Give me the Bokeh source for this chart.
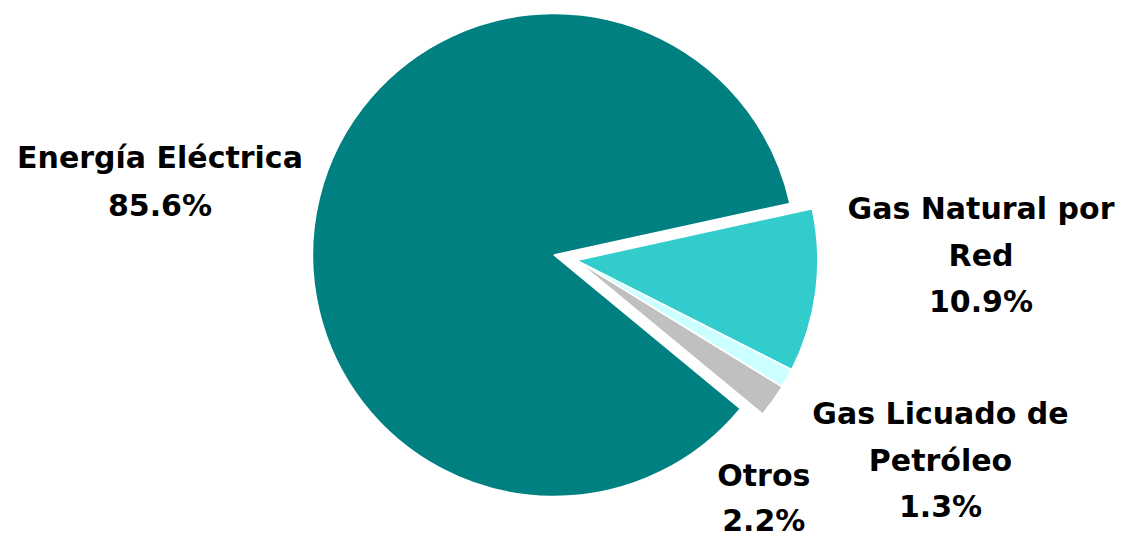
import numpy as np
from bokeh.plotting import figure
from bokeh.models import Range1d, ColumnDataSource
from bokeh.core.properties import value
from bokeh.embed import file_html
from bokeh.resources import INLINE

# ---- data ----
categories = ["Energía Eléctrica", "Gas Natural por Red", "Gas Licuado de Petróleo", "Otros"]
label_lines = [["Energía Eléctrica"], ["Gas Natural por", "Red"], ["Gas Licuado de", "Petróleo"], ["Otros"]]
shares = [85.6, 10.9, 1.3, 2.2]
colors = ["#008080", "#33CCCC", "#CCFFFF", "#C0C0C0"]
exploded = [False, True, True, True]

# ---- layout ----
W, H = 1121, 540
CX, CY = 553.5, 285.5
R = 241.5
START_DEG = 320.5
EXPLODE = 23
label_anchor = [(159.5, 383.0), (980.5, 331.7), (940.0, 126.7), (763.3, 64.7)]
label_step = [47.5, 46.5, 46.5, 45.0]
FONT = "DejaVu Sans"
FSIZE = "30px"

vals = np.array(shares, dtype=float)
ang = vals / vals.sum() * 2 * np.pi
cum = np.cumsum(ang)
before = cum - ang
S = np.deg2rad(START_DEG)
starts = S - cum
ends = S - before

ex_idx = [i for i, e in enumerate(exploded) if e]
mid = (starts[ex_idx].min() + ends[ex_idx].max()) / 2
ox, oy = EXPLODE * np.cos(mid), EXPLODE * np.sin(mid)
xs = [CX + (ox if e else 0) for e in exploded]
ys = [CY + (oy if e else 0) for e in exploded]

src = ColumnDataSource(dict(x=xs, y=ys, start=starts, end=ends, color=colors, cat=categories))

p = figure(width=W, height=H, x_range=Range1d(0, W), y_range=Range1d(0, H),
           output_backend="svg", toolbar_location=None,
           x_axis_location=None, y_axis_location=None, min_border=0)
p.grid.visible = False
p.outline_line_color = None
p.background_fill_color = "white"

p.wedge(x="x", y="y", radius=R, start_angle="start", end_angle="end",
        fill_color="color", line_color="white", line_width=1.5, source=src)

tx, ty, tt = [], [], []
for (ax, ay), step, lines, v in zip(label_anchor, label_step, label_lines, shares):
    all_lines = lines + [f"{v:.1f}%"]
    for k, ln in enumerate(all_lines):
        tx.append(ax)
        ty.append(ay - k * step)
        tt.append(ln)

p.text(x=tx, y=ty, text=tt, text_font=value(FONT), text_font_style="bold",
       text_font_size=FSIZE, text_align="center", text_baseline="alphabetic",
       text_color="black")

open("out.html", "w").write(file_html(p, INLINE))
